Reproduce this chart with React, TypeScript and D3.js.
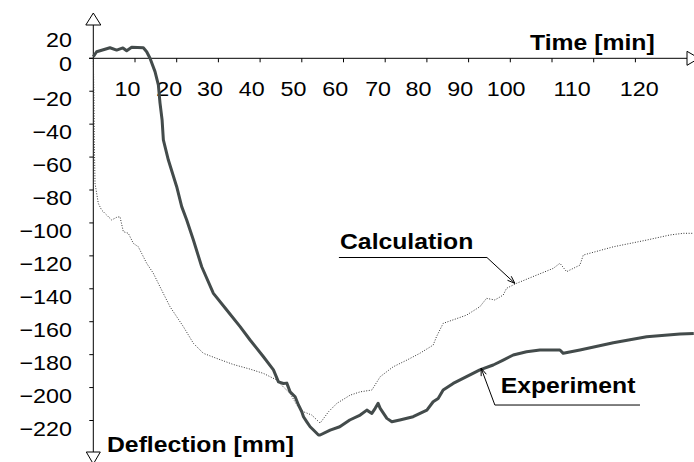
import React from "react";
import * as d3 from "d3";

// Experiment: [time (axis units), deflection mm]
const experimentT = [0, 0.8, 4.0, 5.6, 7.1, 8.0, 9.2, 12.0, 12.8, 13.6, 14.8, 15.6, 16.0, 16.5, 16.8, 18.0, 20.0, 21.2, 22.4, 24.0, 26.0, 28.8, 32.0, 35.2, 37.6, 40.8, 43.2, 44.4, 45.6, 46.4, 47.2, 48.4, 49.2, 50.0, 50.4, 51.2, 52.0, 52.8, 54.0, 54.4, 56.8, 59.1, 61.5, 64.0, 65.6, 66.8, 67.6, 68.3, 68.8, 70.4, 71.6, 73.5, 76.7, 80.0, 81.5, 82.7, 83.9, 86.3, 89.5, 92.7, 95.9, 98.3, 100.7, 103.9, 107.1, 111.9, 112.7, 116.7, 124.7, 132.7, 140.7, 144.0];
const experimentV = [1.0, 4.0, 6.4, 5.0, 6.3, 4.6, 6.7, 6.4, 4.0, 0, -8.1, -16.2, -27.2, -37.5, -49.6, -61.8, -78.0, -90.1, -98.2, -110.4, -126.6, -142.8, -152.9, -163.0, -171.1, -181.3, -189.3, -196.5, -197.5, -197.3, -202.6, -205.6, -210.6, -214.7, -217.7, -220.8, -223.8, -225.8, -228.8, -228.8, -225.8, -223.8, -219.7, -216.7, -213.7, -215.7, -212.6, -209.6, -212.6, -218.7, -220.8, -219.7, -217.7, -213.7, -208.6, -206.6, -201.5, -197.5, -193.4, -189.3, -186.3, -183.3, -180.2, -178.2, -177.2, -177.2, -179.2, -177.2, -172.8, -169.1, -167.5, -167.1];

// Calculation
const calcT = [0, 0.17, 0.24, 0.41, 1.2, 2.0, 4.4, 5.6, 6.4, 7.2, 8.4, 9.6, 10.8, 11.6, 12.8, 14.4, 16.0, 18.4, 21.6, 24.0, 26.4, 29.6, 33.6, 37.6, 40.8, 44.0, 45.6, 47.2, 48.8, 50.4, 52.4, 54.4, 56.4, 58.4, 61.6, 64.0, 66.8, 68.8, 71.9, 75.2, 78.3, 81.5, 82.3, 83.9, 89.5, 92.7, 94.3, 96.3, 98.3, 99.1, 101.5, 106.3, 110.3, 111.9, 113.5, 116.7, 117.5, 124.7, 132.7, 138.3, 141.5, 144.0];
const calcV = [0, -25.3, -49.6, -75.9, -88.1, -92.2, -98.2, -96.6, -96.2, -105.3, -106.3, -112.4, -114.5, -118.5, -124.5, -130.6, -138.8, -150.9, -163.0, -173.1, -179.2, -182.3, -186.0, -188.8, -191.4, -195.4, -199.7, -203.5, -210.6, -214.7, -216.7, -221.6, -214.7, -209.6, -204.6, -202.6, -201.5, -193.4, -187.4, -183.3, -179.2, -174.2, -169.1, -161.0, -156.0, -150.9, -145.8, -146.8, -143.8, -139.7, -136.7, -131.7, -127.6, -124.5, -129.6, -125.6, -119.5, -114.5, -110.4, -107.3, -106.3, -106.3];

const xTicks = [10, 20, 30, 40, 50, 60, 70, 80, 90, 100, 110, 120, 130];
const xLabels = ["10", "20", "30", "40", "50", "60", "70", "80", "90", "100", "110", "120"];
const xLabelPos = [8.2, 18.2, 28, 38, 48, 58, 68.3, 78, 88, 99, 114.8, 130.9];
const yTicks = [0, -20, -40, -60, -80, -100, -120, -140, -160, -180, -200, -220];
const yLabels = ["20", "0", "\u221220", "\u221240", "\u221260", "\u221280", "\u2212100", "\u2212120", "\u2212140", "\u2212160", "\u2212180", "\u2212200", "\u2212220"];
const yLabelPos = [16, 1.4, -20, -40, -60, -80, -100, -120, -140, -160, -180, -200, -220];

const W = 694;
const H = 462;
const FONT = "'Liberation Sans', Arial, sans-serif";
const SX = 1.11;

export default function App() {
  const x = d3.scaleLinear().domain([0, 130]).range([93.3, 635.4]);
  const y = d3.scaleLinear().domain([0, -220]).range([58.3, 420.5]);

  const expData = experimentT.map((t, i) => [t, experimentV[i]] as [number, number]);
  const calcData = calcT.map((t, i) => [t, calcV[i]] as [number, number]);
  const line = d3.line<[number, number]>().x((d) => x(d[0])).y((d) => y(d[1]));

  const x0 = x(0);
  const y0 = y(0);
  const axisTop = 25;
  const axisBottom = 452;
  const axisRight = 687;

  const txt = (tx: number, ty: number, s: string, opts: any = {}) => (
    <text
      transform={`translate(${tx},${ty}) scale(${SX},1)`}
      fontFamily={FONT}
      fontSize={opts.size || 21}
      fontWeight={opts.bold ? "bold" : "normal"}
      textAnchor={opts.anchor || "start"}
      fill="#000"
    >
      {s}
    </text>
  );

  const arrowHead = (tipX: number, tipY: number, fromX: number, fromY: number) => {
    const ang = Math.atan2(tipY - fromY, tipX - fromX);
    const L = 8;
    const a1 = ang + Math.PI - 0.35;
    const a2 = ang + Math.PI + 0.35;
    return `M${tipX + L * Math.cos(a1)},${tipY + L * Math.sin(a1)}L${tipX},${tipY}L${tipX + L * Math.cos(a2)},${tipY + L * Math.sin(a2)}`;
  };

  // annotation anchors (data units)
  const cTip = [x(101.1), y(-136.7)];
  const cCorner = [x(94.4), y(-121.0)];
  const cStart = x(58.9);
  const eTip = [x(93.0), y(-188.2)];
  const eCorner = [x(96.3), y(-210.6)];
  const eEnd = x(131.1);

  return (
    <div style={{ position: "absolute", left: 0, top: 0 }}>
      <svg width={W} height={H} style={{ display: "block", background: "#fff" }}>
        <rect width={W} height={H} fill="#fff" />
        {/* axes */}
        <line x1={89} x2={axisRight} y1={y0} y2={y0} stroke="#000" strokeWidth={1} />
        <line x1={x0} x2={x0} y1={axisTop} y2={axisBottom} stroke="#000" strokeWidth={1} />
        <path d={`M${x0 - 7.5},${axisTop}L${x0 + 7.5},${axisTop}L${x0},${axisTop - 12}Z`} fill="#fff" stroke="#000" />
        <path d={`M${x0 - 7},${axisBottom}L${x0 + 7},${axisBottom}L${x0},${axisBottom + 12}Z`} fill="#fff" stroke="#000" />
        <path d={`M${axisRight},${y0 - 7}L${axisRight},${y0 + 7}L${axisRight + 12},${y0}Z`} fill="#fff" stroke="#000" />
        {xTicks.map((t) => (
          <line key={"xt" + t} x1={x(t)} x2={x(t)} y1={y0} y2={y0 + 4} stroke="#000" />
        ))}
        {yTicks.map((v) => (
          <line key={"yt" + v} x1={x0 - 4} x2={x0} y1={y(v)} y2={y(v)} stroke="#000" />
        ))}
        {xLabels.map((s, i) => (
          <g key={"xl" + s}>{txt(x(xLabelPos[i]), 96, s, { anchor: "middle" })}</g>
        ))}
        {yLabels.map((s, i) => (
          <g key={"yl" + s}>{txt(72, y(yLabelPos[i]) + 15, s, { anchor: "end" })}</g>
        ))}
        {txt(530, 50, "Time [min]", { bold: true, size: 22.3 })}
        {txt(107, 452, "Deflection [mm]", { bold: true, size: 22.3 })}

        {/* series */}
        <path d={line(calcData) || ""} fill="none" stroke="#333" strokeWidth={1} strokeDasharray="1,1.6" />
        <path d={line(expData) || ""} fill="none" stroke="#434b4b" strokeWidth={3} strokeLinejoin="round" />

        {/* annotations */}
        <path d={`M${cStart},${cCorner[1]}L${cCorner[0]},${cCorner[1]}L${cTip[0]},${cTip[1]}`} fill="none" stroke="#000" />
        <path d={arrowHead(cTip[0], cTip[1], cCorner[0], cCorner[1])} fill="none" stroke="#000" />
        {txt(340, 249.3, "Calculation", { bold: true, size: 22.3 })}
        <path d={`M${eTip[0]},${eTip[1]}L${eCorner[0]},${eCorner[1]}L${eEnd},${eCorner[1]}`} fill="none" stroke="#000" />
        <path d={arrowHead(eTip[0], eTip[1], eCorner[0], eCorner[1])} fill="none" stroke="#000" />
        {txt(500.7, 393, "Experiment", { bold: true, size: 22.3 })}
      </svg>
    </div>
  );
}
